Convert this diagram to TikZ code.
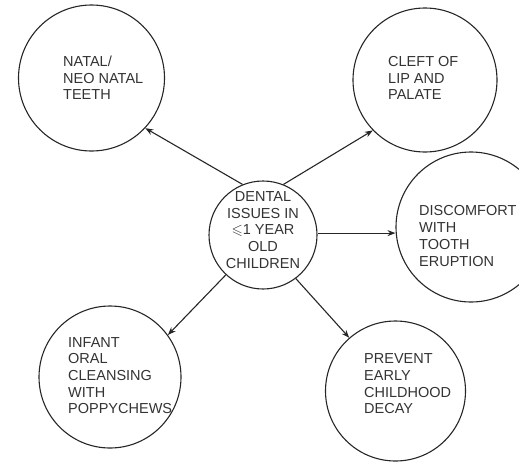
\documentclass[tikz,border=0pt]{standalone}
\usepackage{amssymb}
\usepackage{fontspec}
\setmainfont{Liberation Sans}
\usetikzlibrary{arrows.meta}

\begin{document}
\begin{tikzpicture}[x=1pt, y=-1pt,
  bubble/.style={draw=black!85, line width=1.1pt, circle, inner sep=0pt},
  caption/.style={text=black!80, font=\fontsize{14.5}{16.7}\selectfont, inner sep=0pt, align=left},
  link/.style={draw=black!85, line width=1.1pt, -{Stealth[length=8pt, width=6pt]}}]
\useasboundingbox (0,0) rectangle (519,461);
\clip (0,0) rectangle (519,461);

% circles
\node[bubble, minimum size=108pt] (hub)    at (263,235)   {};
\node[bubble, minimum size=146pt] (natal)  at (91.5,78)   {};
\node[bubble, minimum size=144pt] (cleft)  at (425,80)    {};
\node[bubble, minimum size=150pt] (erupt)  at (471,227)   {};
\node[bubble, minimum size=142pt] (infant) at (110,377)   {};
\node[bubble, minimum size=140pt] (decay)  at (395.5,391) {};

% texts
\node[caption, align=center] (hubtext) at (263,230)
  {DENTAL\\ISSUES IN\\$\leqslant$1 YEAR\\OLD\\CHILDREN};
\node[caption, anchor=west] (natext) at (63,78)    {NATAL/\\NEO NATAL\\TEETH};
\node[caption, anchor=west] (cltext) at (388,78)   {CLEFT OF\\LIP AND\\PALATE};
\node[caption, anchor=west] (ertext) at (419,236)  {DISCOMFORT\\WITH\\TOOTH\\ERUPTION};
\node[caption, anchor=west] (intext) at (68,375.5) {INFANT\\ORAL\\CLEANSING\\WITH\\POPPYCHEWS};
\node[caption, anchor=west] (detext) at (364,384)  {PREVENT\\EARLY\\CHILDHOOD\\DECAY};

% connectors
\draw[link] (hub.112) -- (natal.-43);
\draw[link] (hub.68) -- (cleft.-136);
\draw[link] (hub.2) -- (hub.2 -| erupt.west);
\draw[link] (hub.-133) -- (infant.36.5);
\draw[link] (hub.-53) -- (decay.131.6);
\end{tikzpicture}
\end{document}
